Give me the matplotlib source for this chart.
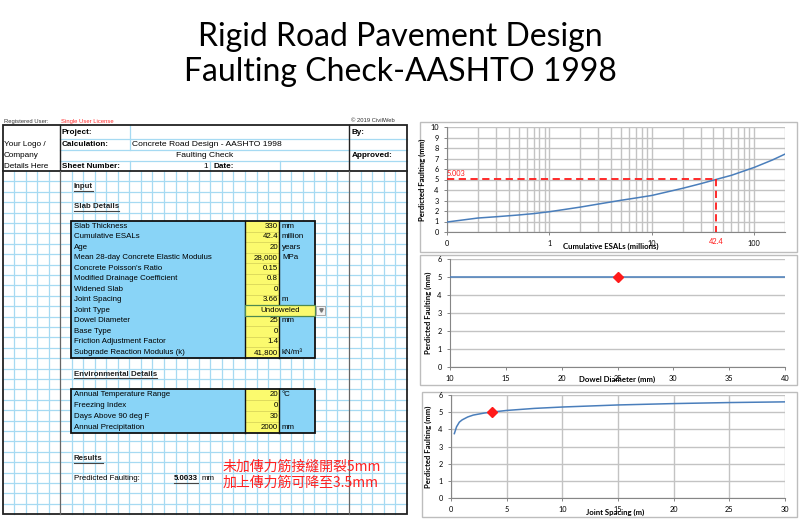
import numpy as np
import matplotlib
matplotlib.use("Agg")
import matplotlib.pyplot as plt
from matplotlib.patches import Rectangle
from matplotlib.ticker import FixedLocator, NullFormatter

# ---- data -------------------------------------------------------------
title_lines = ["Rigid Road Pavement Design", "Faulting Check-AASHTO 1998"]

slab_labels = ["Slab Thickness", "Cumulative ESALs", "Age",
               "Mean 28-day Concrete Elastic Modulus", "Concrete Poisson's Ratio",
               "Modified Drainage Coefficient", "Widened Slab", "Joint Spacing",
               "Joint Type", "Dowel Diameter", "Base Type",
               "Friction Adjustment Factor", "Subgrade Reaction Modulus (k)"]
slab_values = ["330", "42.4", "20", "28,000", "0.15", "0.8", "0", "3.66",
               "Undoweled", "25", "0", "1.4", "41,800"]
slab_units = ["mm", "million", "years", "MPa", "", "", "", "m", "", "mm", "", "",
              "kN/m³"]

env_labels = ["Annual Temperature Range", "Freezing Index", "Days Above 90 deg F",
              "Annual Precipitation"]
env_values = ["20", "0", "30", "2000"]
env_units = ["°C", "", "", "mm"]

predicted_faulting = "5.0033"
note_lines = ["未加傳力筋接縫開裂5mm", "加上傳力筋可降至3.5mm"]

# faulting vs cumulative ESALs (millions), log x axis
esals = [0.1, 0.2, 0.3, 0.5, 0.7, 1, 2, 3, 5, 7, 10, 20, 30, 42.4, 60, 100, 150, 200]
fault_esals = [0.95, 1.33, 1.45, 1.62, 1.75, 1.93, 2.37, 2.66, 3.02, 3.24, 3.48,
               4.16, 4.6, 5.003, 5.4, 6.15, 6.85, 7.42]
design_esals = 42.4
design_fault = 5.003

# faulting vs dowel diameter
dowel_diam = [10, 15, 20, 25, 30, 35, 40]
fault_dowel = [5.003, 5.003, 5.003, 5.003, 5.003, 5.003, 5.003]
design_dowel = 25

# faulting vs joint spacing
joint_spacing = [0.3, 0.5, 0.75, 1, 1.5, 2, 3, 3.66, 5, 7.5, 10, 15, 20, 25, 30]
fault_joint = [3.75, 4.15, 4.42, 4.55, 4.72, 4.83, 4.95, 5.003, 5.1, 5.22, 5.3,
               5.42, 5.5, 5.56, 5.6]
design_joint = 3.66

# ---- figure -----------------------------------------------------------
W, H = 801, 530
fig = plt.figure(figsize=(W / 100, H / 100), dpi=100)
ax0 = fig.add_axes([0, 0, 1, 1])
ax0.set_xlim(0, W)
ax0.set_ylim(H, 0)
ax0.axis("off")

for i, line in enumerate(title_lines):
    ax0.text(400.5, 37 + 35 * i, line, ha="center", va="center", fontsize=23,
             family="Lato", weight="normal", color="black")

# ---- spreadsheet ------------------------------------------------------
sheet_font = "Liberation Sans"
fs = 5.7
grid_c = "#a6daf2"
blue = "#89d4f7"
yellow = "#fbfa6e"

top, hdr_bottom, bottom = 125, 171, 514
left, right = 3, 407
col_a, col_b = 60, 349

# light grid below header
for x0, x1, n in [(left, col_a, 5), (col_a, col_b, 25), (col_b, right, 5)]:
    for x in np.linspace(x0, x1, n + 1)[1:-1]:
        ax0.plot([x, x], [hdr_bottom, bottom], color=grid_c, lw=0.9, zorder=1)
for y in np.arange(hdr_bottom + 10.4, bottom, 10.4):
    ax0.plot([left, right], [y, y], color=grid_c, lw=0.9, zorder=1)

# header light lines
for y in [138.5, 150, 161]:
    ax0.plot([col_a, right], [y, y], color=grid_c, lw=0.9, zorder=1)
ax0.plot([129.5, 129.5], [top, 150], color=grid_c, lw=0.9, zorder=1)
ax0.plot([129.5, 129.5], [161, hdr_bottom], color=grid_c, lw=0.9, zorder=1)
ax0.plot([210, 210], [161, hdr_bottom], color=grid_c, lw=0.9, zorder=1)
ax0.plot([280, 280], [161, hdr_bottom], color=grid_c, lw=0.9, zorder=1)

# dark frame
ax0.add_patch(Rectangle((left, top), right - left, bottom - top, fill=False,
                        ec="#222222", lw=1.3, zorder=5))
ax0.plot([left, right], [hdr_bottom, hdr_bottom], color="#222222", lw=1.3, zorder=5)
ax0.plot([col_a, col_a], [top, hdr_bottom], color="#222222", lw=1.0, zorder=5)
ax0.plot([col_b, col_b], [top, hdr_bottom], color="#222222", lw=1.0, zorder=5)
ax0.plot([col_a, col_a], [hdr_bottom, bottom], color="#666666", lw=0.9, zorder=5)
ax0.plot([col_b, col_b], [hdr_bottom, bottom], color="#666666", lw=0.9, zorder=5)

ax0.text(4, 121, "Registered User:", fontsize=4.2, family=sheet_font, va="center",
         color="#333333")
ax0.text(61, 121, "Single User License", fontsize=4.2, family=sheet_font,
         va="center", color="#ff2a2a")
ax0.text(351, 121, "© 2019 CivilWeb", fontsize=4.2, family=sheet_font, va="center",
         color="#333333")

for i, t in enumerate(["Your Logo /", "Company", "Details Here"]):
    ax0.text(4, 145 + 10.5 * i, t, fontsize=5.9, family=sheet_font, va="center")
ax0.text(62, 132, "Project:", fontsize=5.9, family=sheet_font, weight="bold",
         va="center")
ax0.text(62, 144, "Calculation:", fontsize=5.9, family=sheet_font, weight="bold",
         va="center")
ax0.text(132, 144, "Concrete Road Design - AASHTO 1998", fontsize=6.1,
         family=sheet_font, va="center")
ax0.text(205, 155.5, "Faulting Check", fontsize=6.1, family=sheet_font,
         ha="center", va="center")
ax0.text(62, 166, "Sheet Number:", fontsize=5.9, family=sheet_font, weight="bold",
         va="center")
ax0.text(208, 166, "1", fontsize=5.9, family=sheet_font, ha="right", va="center")
ax0.text(213, 166, "Date:", fontsize=5.9, family=sheet_font, weight="bold",
         va="center")
ax0.text(352, 132, "By:", fontsize=5.9, family=sheet_font, weight="bold",
         va="center")
ax0.text(352, 155.5, "Approved:", fontsize=5.9, family=sheet_font, weight="bold",
         va="center")

headings = []
for y, t in [(187, "Input"), (207, "Slab Details"), (374.5, "Environmental Details"),
             (459, "Results")]:
    headings.append(ax0.text(74, y, t, fontsize=fs, family=sheet_font,
                             weight="bold", va="center", color="#222222", zorder=6))


def draw_table(y0, row_h, labels, values, units, dropdown_row=None):
    n = len(labels)
    y1 = y0 + row_h * n
    ax0.add_patch(Rectangle((71, y0), 244, y1 - y0, fc=blue, ec="none", zorder=3))
    ax0.add_patch(Rectangle((245, y0), 34.3, y1 - y0, fc=yellow, ec="none",
                            zorder=3))
    for i in range(1, n):
        yy = y0 + row_h * i
        ax0.plot([245, 279.3], [yy, yy], color="#d9d65a", lw=0.6, zorder=3.5)
    ax0.plot([245, 245], [y0, y1], color="#111111", lw=1.0, zorder=4)
    ax0.plot([279.3, 279.3], [y0, y1], color="#111111", lw=1.0, zorder=4)
    ax0.add_patch(Rectangle((71, y0), 244, y1 - y0, fill=False, ec="#111111",
                            lw=1.3, zorder=4.5))
    for i, (lab, val, unit) in enumerate(zip(labels, values, units)):
        yc = y0 + row_h * (i + 0.5)
        ax0.text(74, yc, lab, fontsize=fs, family=sheet_font, va="center", zorder=6)
        if i == dropdown_row:
            ax0.add_patch(Rectangle((245, yc - row_h / 2), 70, row_h, fc=yellow,
                                    ec="#4f8a4f", lw=0.9, zorder=5))
            ax0.add_patch(Rectangle((316, yc - row_h / 2 + 1), 9, row_h - 2,
                                    fc="#f4f4f4", ec="#9a9a9a", lw=0.6, zorder=5))
            ax0.plot([320.5], [yc], marker="v", ms=2.5, color="#777777", zorder=6)
            ax0.text(280, yc, val, fontsize=fs, family=sheet_font, ha="center",
                     va="center", zorder=6)
        else:
            ax0.text(278, yc, val, fontsize=fs, family=sheet_font, ha="right",
                     va="center", zorder=6)
        if unit:
            ax0.text(282, yc, unit, fontsize=fs, family=sheet_font, va="center",
                     zorder=6)


draw_table(221, 10.5, slab_labels, slab_values, slab_units, dropdown_row=8)
draw_table(388.5, 11.1, env_labels, env_values, env_units)

ax0.text(74, 479, "Predicted Faulting:", fontsize=fs, family=sheet_font,
         va="center", zorder=6)
res = ax0.text(198, 479, predicted_faulting, fontsize=fs, family=sheet_font,
               weight="bold", ha="right", va="center", zorder=6)
ax0.text(202, 479, "mm", fontsize=fs, family=sheet_font, va="center", zorder=6)
headings.append(res)

for i, t in enumerate(note_lines):
    ax0.text(223, 467 + 16 * i, t, fontsize=10,
             family=["Noto Sans CJK TC", "DejaVu Sans"], color="#ff2020",
             va="center", zorder=7)

# underline headings
fig.canvas.draw()
renderer = fig.canvas.get_renderer()
inv = ax0.transData.inverted()
for t in headings:
    bb = t.get_window_extent(renderer)
    (xa, ya), (xb, _) = inv.transform([[bb.x0, bb.y0], [bb.x1, bb.y0]])
    ax0.plot([xa, xb], [ya + 0.3, ya + 0.3], color="#444444", lw=0.8, zorder=6)

# ---- charts -----------------------------------------------------------
chart_font = "Lato"
tick_fs = 5.3
line_c = "#4a7ebb"
red = "#ff1a1a"
grid_kw = dict(color="#c3c3c3", lw=1.0)


def px_axes(l, t, r, b):
    return fig.add_axes([l / W, 1 - b / H, (r - l) / W, (b - t) / H])


def style(ax, xlabel, xlab_pos, ylab_x):
    for s in ["top", "right"]:
        ax.spines[s].set_visible(False)
    for s in ["left", "bottom"]:
        ax.spines[s].set_color("#868686")
        ax.spines[s].set_linewidth(0.8)
    ax.tick_params(axis="both", which="major", length=2, width=0.7,
                   color="#868686", labelsize=tick_fs, pad=4)
    ax.tick_params(axis="x", which="minor", length=0)
    for lab in ax.get_xticklabels() + ax.get_yticklabels():
        lab.set_family(chart_font)
    ax.set_xlabel(xlabel, fontsize=5.6, family=chart_font, weight="bold")
    ax.xaxis.set_label_coords(*xlab_pos)
    ax.xaxis.label.set_va("center")
    ax.set_ylabel("Perdicted Faulting (mm)", fontsize=5.6, family=chart_font,
                  weight="bold")
    ax.yaxis.set_label_coords(ylab_x, 0.5)
    ax.set_axisbelow(True)


# chart boxes
for (l, t, r, b) in [(420, 122, 797, 252), (420, 255, 797, 385), (422, 392, 797, 517)]:
    ax0.add_patch(Rectangle((l, t), r - l, b - t, fill=False, ec="#bdbdbd", lw=1.0,
                            zorder=2))

# chart 1: ESALs
ax1 = px_axes(447, 127, 785, 232)
ax1.set_xscale("log")
ax1.set_xlim(0.1, 200)
ax1.set_ylim(0, 10)
ax1.xaxis.set_major_locator(FixedLocator([0.1, 1, 10, 100]))
ax1.set_xticklabels(["0", "1", "10", "100"])
minors = [m * d for d in [0.1, 1, 10, 100] for m in range(2, 10) if m * d <= 200]
ax1.xaxis.set_minor_locator(FixedLocator(minors))
ax1.xaxis.set_minor_formatter(NullFormatter())
ax1.set_yticks(range(0, 11))
ax1.grid(True, which="both", axis="x", **grid_kw)
ax1.grid(True, which="major", axis="y", **grid_kw)
ax1.plot(esals, fault_esals, color=line_c, lw=1.1, zorder=3)
ax1.plot([0.1, design_esals], [design_fault, design_fault], color=red, lw=1.3,
         ls=(0, (4, 2.5)), zorder=4)
ax1.plot([design_esals, design_esals], [design_fault, 0], color=red, lw=1.3,
         ls=(0, (4, 2.5)), zorder=4)
ax1.text(0.1, design_fault + 0.25, f"{design_fault:.3f}", color=red, fontsize=5.3,
         family=chart_font, va="bottom", ha="left")
ax1.text(design_esals, -0.95, f"{design_esals}", color=red, fontsize=5.3,
         family=chart_font, va="center", ha="center", clip_on=False)
style(ax1, "Cumulative ESALs (millions)", (0.483, -0.14), -0.062)

# chart 2: dowel diameter
ax2 = px_axes(450, 259, 785, 367)
ax2.set_xlim(10, 40)
ax2.set_ylim(0, 6)
ax2.set_xticks(range(10, 41, 5))
ax2.set_yticks(range(0, 7))
ax2.grid(True, axis="y", **grid_kw)
ax2.plot(dowel_diam, fault_dowel, color=line_c, lw=1.1, zorder=3)
ax2.plot([design_dowel], [design_fault], marker="D", ms=5, color=red, zorder=4)
style(ax2, "Dowel Diameter (mm)", (0.5, -0.115), -0.053)

# chart 3: joint spacing
ax3 = px_axes(451, 395, 785, 498)
ax3.set_xlim(0, 30)
ax3.set_ylim(0, 6)
ax3.set_xticks(range(0, 31, 5))
ax3.set_yticks(range(0, 7))
ax3.grid(True, **grid_kw)
ax3.plot(joint_spacing, fault_joint, color=line_c, lw=1.1, zorder=3)
ax3.plot([design_joint], [design_fault], marker="D", ms=5, color=red, zorder=4)
style(ax3, "Joint Spacing (m)", (0.49, -0.143), -0.056)

fig.savefig("out.png", dpi=100)
